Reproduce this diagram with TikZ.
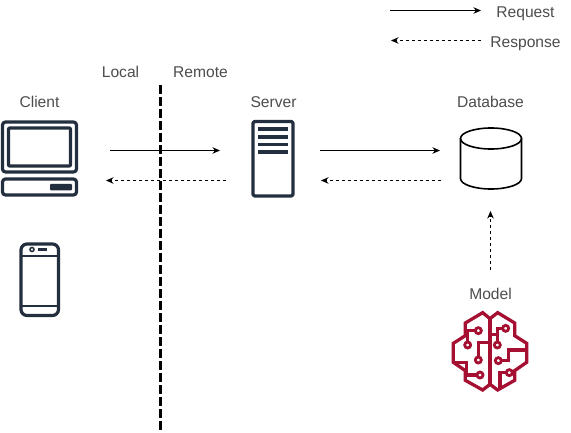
\documentclass[tikz,border=0pt]{standalone}
\usepackage{fontspec}
\setmainfont{Liberation Sans}
\usetikzlibrary{arrows.meta}
\definecolor{lbl}{HTML}{4D4D4D}
\definecolor{ink}{HTML}{232F3E}
\definecolor{brain}{HTML}{A50F32}
\tikzset{
  lab/.style={text=lbl,font=\fontsize{15.6}{17}\selectfont,inner sep=0pt,anchor=base},
  req/.style={-{Stealth[length=7.5pt,width=6.5pt]},line width=1pt,black},
  res/.style={-{Stealth[length=7.5pt,width=6.5pt]},line width=1pt,black,dash pattern=on 3pt off 3pt},
  icon/.style={draw=ink,line width=3.2pt,line join=round,rounded corners=3pt},
  brn/.style={draw=brain,line width=3.3pt,line join=miter}
}
\begin{document}
\begin{tikzpicture}[x=1pt,y=-1pt]
\useasboundingbox (0,0) rectangle (571,433);
\fill[white] (0,0) rectangle (571,433);
% labels
\node[lab] (reqL) at (525.5,17.5) {Request};
\node[lab] (resL) at (525.5,47.5) {Response};
\node[lab] (local) at (120.5,77.5) {Local};
\node[lab] (remote) at (200.5,77.5) {Remote};
\node[lab] (client) at (39.5,107.5) {Client};
\node[lab] (server) at (273.5,107.5) {Server};
\node[lab] (database) at (490.5,107.5) {Database};
\node[lab] (model) at (490.5,299.5) {Model};
% coordinates
\coordinate (a1) at (390,10.5); \coordinate (a2) at (481,10.5);
\coordinate (b1) at (481,40.5); \coordinate (b2) at (391,40.5);
\coordinate (c1) at (110,150.5); \coordinate (c2) at (220,150.5);
\coordinate (d1) at (226,180.5); \coordinate (d2) at (106,180.5);
\coordinate (e1) at (320,150.5); \coordinate (e2) at (440,150.5);
\coordinate (f1) at (441,180.5); \coordinate (f2) at (321,180.5);
\coordinate (g1) at (490.5,270); \coordinate (g2) at (490.5,211);
\coordinate (h1) at (160,85); \coordinate (h2) at (160,433);
\draw[line width=3pt,black,dash pattern=on 9pt off 3pt] (h1) -- (h2);
\draw[req] (a1) -- (a2);
\draw[res] (b1) -- (b2);
\draw[req] (c1) -- (c2);
\draw[res] (d1) -- (d2);
\draw[req] (e1) -- (e2);
\draw[res] (f1) -- (f2);
\draw[res] (g1) -- (g2);
% laptop
\draw[icon] (2.5,122) rectangle (76.5,172);
\draw[icon,rounded corners=1pt] (8.5,128) rectangle (70.5,166);
\draw[icon] (2.5,179) rectangle (76.5,195);
\fill[ink,rounded corners=1pt] (50,184) rectangle (72,190.3);
% phone
\draw[icon,rounded corners=6pt] (21,244) rectangle (58.5,315.5);
\draw[draw=ink,line width=2.6pt] (21,256) -- (58.5,256);
\draw[draw=ink,line width=2.6pt] (21,306) -- (58.5,306);
\draw[ink,line width=1.5pt] (32,249.5) circle (2);
\fill[ink] (38,248) rectangle (47,251);
% server
\draw[icon,rounded corners=1.5pt] (253,121.5) rectangle (293,196);
\foreach \yy in {129,137,144.5,152} \fill[ink] (258,\yy-1.8) rectangle (288,\yy+1.8);
% database
\draw[line width=1.6pt,black] (491,138.5) ellipse [x radius=30.5,y radius=10.5];
\draw[line width=1.6pt,black] (460.5,138.5) -- (460.5,178.5) arc[start angle=180,end angle=0,x radius=30.5,y radius=10.5] -- (521.5,138.5);
% brain
\begin{scope}[shift={(445,305)},x=0.3333pt,y=-0.3333pt]
\draw[brn]
 (113,23) -- (135,41) -- (158,23) -- (209,54) -- (209,92) -- (245,115) -- (245,172) -- (209,197) -- (209,226) -- (158,255) -- (135,238) -- (113,255) -- (61,226) -- (61,197) -- (25,172) -- (25,115) -- (61,92) -- (61,54) -- cycle;
\draw[brn] (135,41) -- (135,238);
\draw[brn]
  (91,77) -- (68,77) -- (68,111)
  (100,156) -- (100,113) -- (135,113)
  (25,172) -- (65,172) -- (65,210) -- (96,210)
  (173,70) -- (157,70) -- (157,111)
  (135,88) -- (157,88)
  (169,167) -- (190,167) -- (190,135) -- (245,135)
  (184,203) -- (165,203) -- (165,248);
\foreach \p in {(100,77),(68,120),(100,165),(105,210),(182,70),(157,120),(160,167),(193,203)}
  \draw[draw=brain,line width=2.8pt] \p circle (9);
\end{scope}
\end{tikzpicture}
\end{document}
